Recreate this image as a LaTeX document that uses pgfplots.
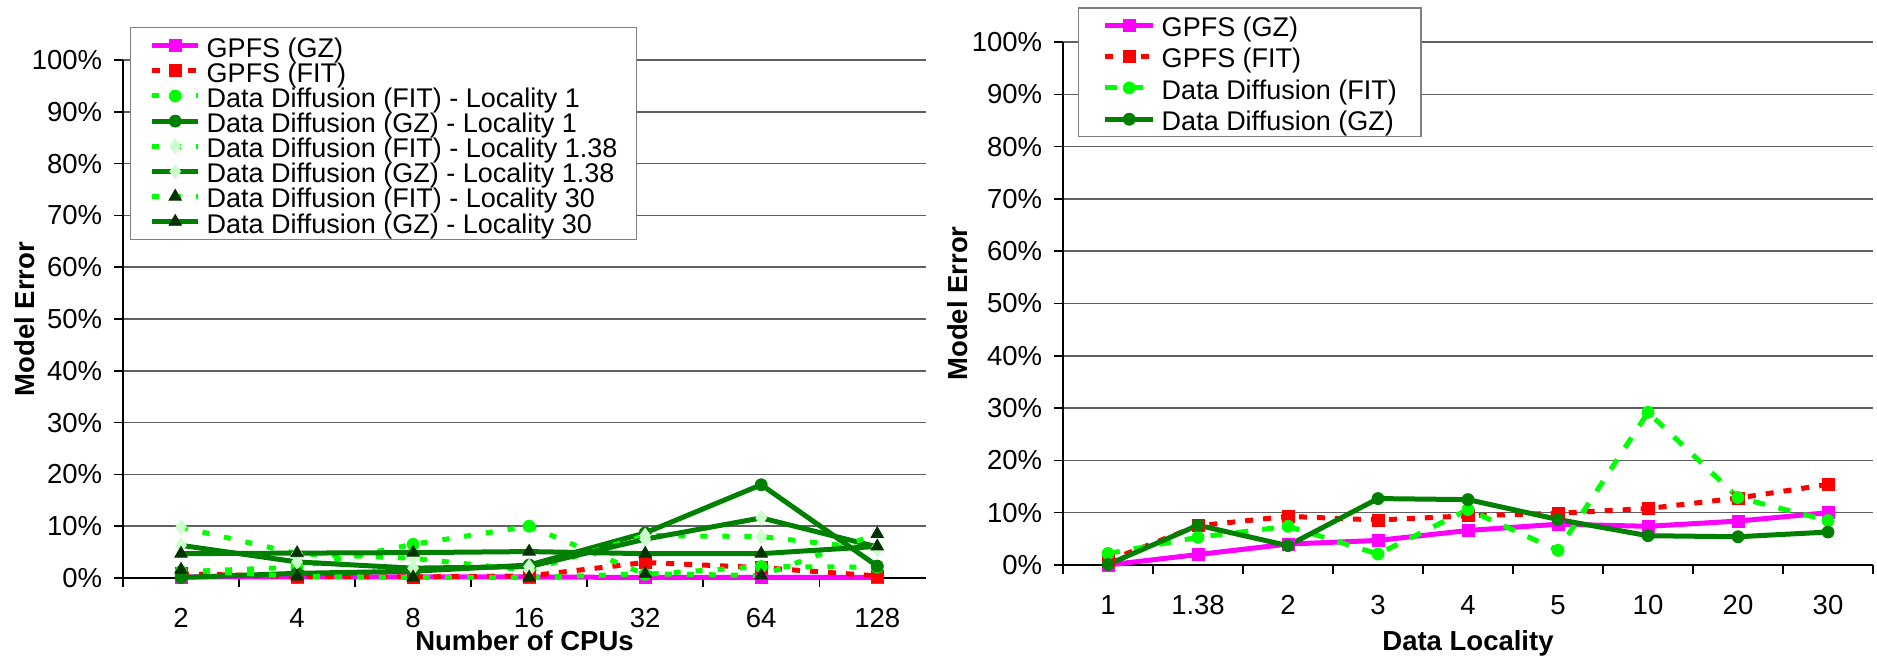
\documentclass[border=0pt]{standalone}
\usepackage{fontspec}
\setmainfont{Liberation Sans}
\usepackage{pgfplots}
\usepackage{pgfplotstable}
\pgfplotsset{compat=1.18}

\definecolor{gzpink}{RGB}{255,0,255}
\definecolor{fitred}{RGB}{255,0,0}
\definecolor{fitgreen}{RGB}{0,255,0}
\definecolor{gzgreen}{RGB}{0,128,0}
\definecolor{palegreen}{RGB}{204,255,204}
\definecolor{darkmark}{RGB}{0,51,0}
\definecolor{gridgray}{RGB}{96,96,96}
\definecolor{boxgray}{RGB}{128,128,128}

\newcommand{\chartfont}{\fontsize{13.75}{16}\selectfont}
\newcommand{\legendfont}{\fontsize{13.5}{16}\selectfont}

% model error (%) against number of CPUs; x = 0..6 stands for 2,4,...,128
% A = locality 1, B = locality 1.38, C = locality 30
\pgfplotstableread{
x gpfsgz gpfsfit fitA gzA fitB gzB fitC gzC
0 0.2 0.8 1.2 0.1 9.8 6.3 1.6 4.7
1 0.2 0.3 2.1 0.9 4.7 3.1 0.3 4.8
2 0.2 0.2 6.5 1.3 3.8 1.9 0.1 4.9
3 0.2 0.4 10.0 2.5 1.5 2.2 0.1 5.1
4 0.1 3.0 0.7 8.7 8.2 7.5 0.8 4.7
5 0.1 2.0 2.2 18.0 8.0 11.6 0.5 4.7
6 0.1 0.4 2.1 2.3 5.5 6.0 8.5 6.1
}\cpus

% model error (%) against data locality; x = 0..8 stands for 1,1.38,...,30
\pgfplotstableread{
x gpfsgz gpfsfit ddfit ddgz
0 0.0 0.8 2.2 0.1
1 2.0 7.5 5.3 7.6
2 4.0 9.3 7.4 3.7
3 4.7 8.6 2.1 12.7
4 6.6 9.4 10.6 12.5
5 7.8 9.9 2.8 8.7
6 7.4 10.8 29.2 5.6
7 8.4 12.8 12.9 5.4
8 10.0 15.4 8.5 6.3
}\locality

\pgfplotsset{
  errorchart/.style={
    scale only axis, clip=false,
    ymin=0, ymax=100,
    ytick={0,10,...,100},
    yticklabel={\pgfmathprintnumber{\tick}\%},
    /pgf/number format/assume math mode=true,
    ymajorgrids,
    grid style={line width=0.75pt, gridgray},
    axis x line*=bottom, axis y line*=left,
    axis line style={line width=0.75pt, black, -},
    tick align=outside,
    major tick length=4.5pt,
    tick style={line width=0.75pt, black},
    % the boundary ticks carry no text; the category names sit between them
    xticklabels={,,,,,,,,,,,},
    extra x tick style={major tick length=0pt, grid=none},
    tick label style={font=\chartfont},
    xticklabel style={anchor=base, yshift=-25pt},
    yticklabel style={anchor=east, xshift=-2.4pt},
    label style={font=\bfseries\chartfont},
    legend cell align=left,
    legend style={draw=boxgray, line width=0.75pt, fill=white,
      font=\legendfont, column sep=3pt, row sep=0pt},
    every axis plot/.append style={line width=2.5pt},
  },
  mk/.style={mark options={solid, line width=0.4pt}},
  gpfsgz/.style={gzpink, solid, mark=square*, mark size=3pt, mk},
  gpfsfit/.style={fitred, dash pattern=on 4pt off 5pt, mark=square*, mark size=3pt, mk},
  ddfit/.style={fitgreen, dash pattern=on 3.5pt off 7.5pt, mark=*, mark size=3pt, mk},
  ddgz/.style={gzgreen, solid, mark=*, mark size=3pt, mk},
  fitB/.style={fitgreen, dash pattern=on 3.5pt off 7.5pt, mark=diamond*, mark size=3.6pt,
    mark options={solid, line width=0.4pt, draw=palegreen, fill=palegreen}},
  gzB/.style={gzgreen, solid, mark=diamond*, mark size=3.6pt,
    mark options={solid, line width=0.4pt, draw=palegreen, fill=palegreen}},
  fitC/.style={fitgreen, dash pattern=on 3.5pt off 7.5pt, mark=triangle*, mark size=3.6pt,
    mark options={solid, line width=0.4pt, draw=darkmark, fill=darkmark}},
  gzC/.style={gzgreen, solid, mark=triangle*, mark size=3.6pt,
    mark options={solid, line width=0.4pt, draw=darkmark, fill=darkmark}},
}

\begin{document}
\begin{tikzpicture}
\useasboundingbox (0,0) rectangle (938.5pt,328.5pt);

% ---- error against number of CPUs ----
\begin{axis}[errorchart,
  at={(61.5pt,39.5pt)}, anchor=south west,
  width=401.5pt, height=259pt,
  xmin=-0.5, xmax=6.42,
  xtick={-0.5,0.5,1.5,2.5,3.5,4.5,5.5},
  extra x ticks={0,1,2,3,4,5,6},
  extra x tick labels={2,4,8,16,32,64,128},
  xlabel={Number of CPUs}, ylabel={Model Error},
  xlabel style={at={([yshift=-36.5pt]axis description cs:0.5,0)}, anchor=base},
  ylabel style={at={([xshift=-49pt]axis description cs:0,0.5)}, anchor=center},
  legend image code/.code={\draw[mark repeat=2, mark phase=2, #1]
    plot coordinates {(0pt,0pt) (11.5pt,0pt) (23pt,0pt)};},
  legend style={at={(0.0087,1.0637)}, anchor=north west,
    inner xsep=9.5pt, inner ysep=2.7pt,
    nodes={inner sep=0pt, text height=12pt, text depth=0.57pt}},
]
\addplot[gpfsgz]  table[x=x, y=gpfsgz]  {\cpus}; \addlegendentry{GPFS (GZ)}
\addplot[gpfsfit] table[x=x, y=gpfsfit] {\cpus}; \addlegendentry{GPFS (FIT)}
\addplot[ddfit]   table[x=x, y=fitA]    {\cpus}; \addlegendentry{Data Diffusion (FIT) - Locality 1}
\addplot[ddgz]    table[x=x, y=gzA]     {\cpus}; \addlegendentry{Data Diffusion (GZ) - Locality 1}
\addplot[fitB]    table[x=x, y=fitB]    {\cpus}; \addlegendentry{Data Diffusion (FIT) - Locality 1.38}
\addplot[gzB]     table[x=x, y=gzB]     {\cpus}; \addlegendentry{Data Diffusion (GZ) - Locality 1.38}
\addplot[fitC]    table[x=x, y=fitC]    {\cpus}; \addlegendentry{Data Diffusion (FIT) - Locality 30}
\addplot[gzC]     table[x=x, y=gzC]     {\cpus}; \addlegendentry{Data Diffusion (GZ) - Locality 30}
\end{axis}

% ---- error against data locality ----
\begin{axis}[errorchart,
  at={(531.5pt,46pt)}, anchor=south west,
  width=405pt, height=261.5pt,
  xmin=-0.5, xmax=8.5,
  xtick={-0.5,0.5,1.5,2.5,3.5,4.5,5.5,6.5,7.5,8.5},
  extra x ticks={0,1,2,3,4,5,6,7,8},
  extra x tick labels={1,1.38,2,3,4,5,10,20,30},
  xlabel={Data Locality}, ylabel={Model Error},
  xlabel style={at={([yshift=-43pt]axis description cs:0.5,0)}, anchor=base},
  ylabel style={at={([xshift=-52.5pt]axis description cs:0,0.5)}, anchor=center},
  legend image code/.code={\draw[mark repeat=2, mark phase=2, #1]
    plot coordinates {(0pt,0pt) (12pt,0pt) (24pt,0pt)};},
  legend style={at={(0.0185,1.0669)}, anchor=north west,
    inner xsep=12pt, inner ysep=0.9pt,
    nodes={inner sep=0pt, text height=13.5pt, text depth=2.17pt}},
]
\addplot[gpfsgz]  table[x=x, y=gpfsgz]  {\locality}; \addlegendentry{GPFS (GZ)}
\addplot[gpfsfit] table[x=x, y=gpfsfit] {\locality}; \addlegendentry{GPFS (FIT)}
\addplot[ddfit, dash pattern=on 6pt off 7pt] table[x=x, y=ddfit] {\locality}; \addlegendentry{Data Diffusion (FIT)}
\addplot[ddgz]    table[x=x, y=ddgz]    {\locality}; \addlegendentry{Data Diffusion (GZ)}
\end{axis}
\end{tikzpicture}
\end{document}
